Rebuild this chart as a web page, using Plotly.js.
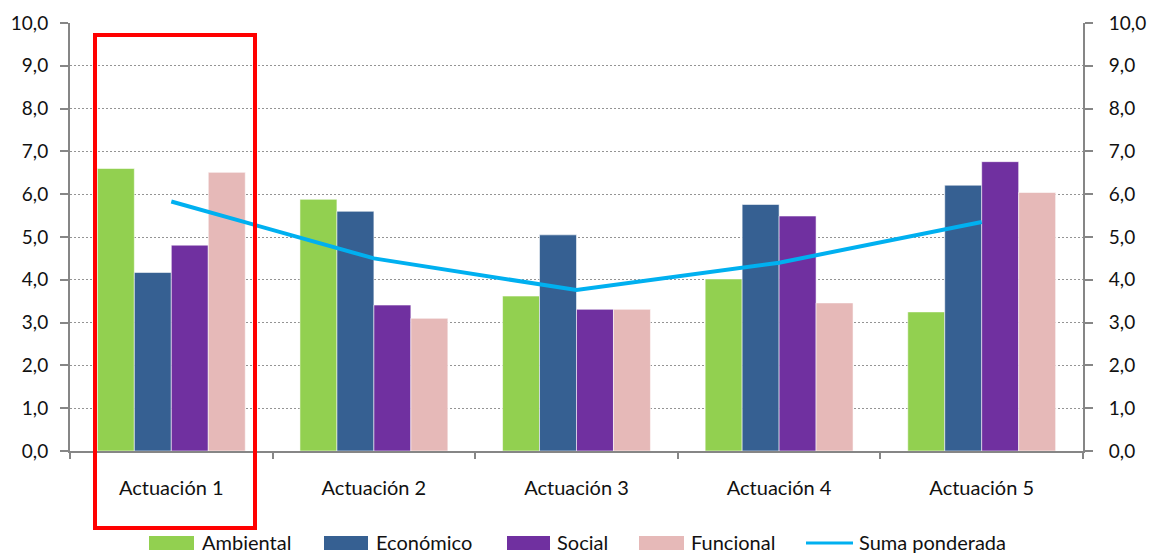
<!DOCTYPE html>
<html>
<head>
<meta charset="utf-8">
<script src="https://cdn.plot.ly/plotly-3.0.1.min.js"></script>
<style>
  html, body { margin: 0; padding: 0; background: #ffffff; }
  #chart { width: 1149px; height: 555px; }
</style>
</head>
<body>
<div id="chart"></div>
<script>
// Actuaciones evaluadas
const categorias = ['Actuación 1', 'Actuación 2', 'Actuación 3', 'Actuación 4', 'Actuación 5'];

// Puntuación por criterio (escala 0-10)
const ambiental = [6.6, 5.88, 3.62, 4.02, 3.25];
const economico = [4.17, 5.6, 5.05, 5.76, 6.21];
const social    = [4.81, 3.41, 3.31, 5.49, 6.76];
const funcional = [6.51, 3.1, 3.31, 3.46, 6.04];

// Suma ponderada de los cuatro criterios
const sumaPonderada = [5.83, 4.5, 3.76, 4.4, 5.35];

// Marcas del eje vertical
const ticksY = [0, 1, 2, 3, 4, 5, 6, 7, 8, 9, 10];

const FONT = 'Lato, "Open Sans", sans-serif';
const barLine = { color: 'rgba(255,255,255,0.55)', width: 1 };

const traces = [
  { type: 'bar', name: 'Ambiental', x: categorias, y: ambiental,
    marker: { color: '#92D050', line: barLine } },
  { type: 'bar', name: 'Económico', x: categorias, y: economico,
    marker: { color: '#366092', line: barLine } },
  { type: 'bar', name: 'Social', x: categorias, y: social,
    marker: { color: '#7030A0', line: barLine } },
  { type: 'bar', name: 'Funcional', x: categorias, y: funcional,
    marker: { color: '#E6B9B8', line: barLine } },
  { type: 'scatter', mode: 'lines', name: 'Suma ponderada', x: categorias, y: sumaPonderada,
    yaxis: 'y2', line: { color: '#00B0F0', width: 4 } }
];

// Plot area in pixels (used to place the legend and the highlight frame)
const W = 1149, H = 555;
const M = { l: 70, r: 66, t: 23, b: 104 };
const plotW = W - M.l - M.r, plotH = H - M.t - M.b;
const px = v => (v - M.l) / plotW;          // horizontal pixel -> paper
const py = v => (H - M.b - v) / plotH;      // vertical pixel -> paper

// Legend row below the plot: swatch start/end and label start for each series
const legendSlots = [
  { x0: 149, x1: 194, tx: 200 },
  { x0: 324, x1: 368, tx: 374 },
  { x0: 507, x1: 550, tx: 555 },
  { x0: 639, x1: 684, tx: 689 },
  { x0: 806, x1: 853, tx: 857 }
];
const legendY = 543;

const shapes = [
  // Marco rojo que resalta la primera actuación
  { type: 'rect', xref: 'paper', yref: 'paper',
    x0: px(95), x1: px(255), y0: py(528), y1: py(35),
    line: { color: '#FF0000', width: 4 }, fillcolor: 'rgba(0,0,0,0)', layer: 'above' }
];
const annotations = [];

traces.forEach((t, i) => {
  const s = legendSlots[i];
  if (t.type === 'bar') {
    shapes.push({ type: 'rect', xref: 'paper', yref: 'paper',
      x0: px(s.x0), x1: px(s.x1), y0: py(legendY + 7), y1: py(legendY - 7),
      line: { width: 0 }, fillcolor: t.marker.color });
  } else {
    shapes.push({ type: 'line', xref: 'paper', yref: 'paper',
      x0: px(s.x0), x1: px(s.x1), y0: py(legendY), y1: py(legendY),
      line: { color: t.line.color, width: 3 } });
  }
  annotations.push({ xref: 'paper', yref: 'paper', x: px(s.tx), y: py(legendY - 1),
    xanchor: 'left', yanchor: 'middle', showarrow: false, text: t.name,
    font: { family: FONT, size: 20, color: '#111111' } });
});

const yCommon = {
  range: [0, 10],
  tickvals: ticksY,
  tickformat: '.1f',
  ticks: 'outside',
  ticklen: 8,
  tickwidth: 2,
  tickcolor: '#868686',
  showline: true,
  linecolor: '#868686',
  linewidth: 2,
  zeroline: false,
  tickfont: { family: FONT, size: 19, color: '#111111' },
  fixedrange: true
};

const layout = {
  width: W,
  height: H,
  paper_bgcolor: '#ffffff',
  plot_bgcolor: '#ffffff',
  separators: ',.',
  margin: Object.assign({ autoexpand: false }, M),
  barmode: 'group',
  bargap: 0.27,
  bargroupgap: 0,
  showlegend: false,
  font: { family: FONT, color: '#111111' },
  xaxis: {
    type: 'category',
    tickson: 'boundaries',
    ticks: 'outside',
    ticklen: 6,
    tickwidth: 2,
    tickcolor: '#868686',
    showline: true,
    linecolor: '#868686',
    linewidth: 2,
    showgrid: false,
    ticklabelstandoff: 18,
    tickfont: { family: FONT, size: 20, color: '#111111' },
    fixedrange: true
  },
  yaxis: Object.assign({}, yCommon, {
    side: 'left',
    showgrid: true,
    gridcolor: '#949494',
    griddash: '2px,2px',
    gridwidth: 1,
    ticklabelstandoff: 8
  }),
  yaxis2: Object.assign({}, yCommon, {
    side: 'right',
    overlaying: 'y',
    showgrid: false,
    ticklabelstandoff: 12
  }),
  shapes: shapes,
  annotations: annotations
};

Plotly.newPlot('chart', traces, layout, { displayModeBar: false, staticPlot: true });
</script>
</body>
</html>
